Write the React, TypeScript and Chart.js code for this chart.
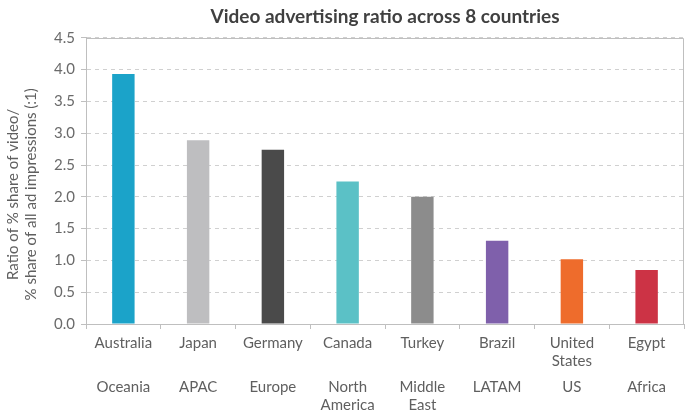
import React, { useEffect, useRef } from "react";
import { Chart, registerables } from "chart.js";

Chart.register(...registerables);

const chartTitle = "Video advertising ratio across 8 countries";
const yAxisTitle = ["Ratio of % share of video/       ", "% share of all ad impressions (:1)       "];
const countries: (string | string[])[] = ["Australia", "Japan", "Germany", "Canada", "Turkey", "Brazil", ["United", "States"], "Egypt"];
const regions: (string | string[])[] = ["Oceania", "APAC", "Europe", ["North", "America"], ["Middle", "East"], "LATAM", "US", "Africa"];
const ratios = [3.93, 2.89, 2.74, 2.24, 2.0, 1.31, 1.02, 0.85];
const barColors = ["#1ba3c9", "#bebec0", "#4a4a4a", "#5bc1c6", "#8c8c8c", "#7f60ab", "#ee6c2c", "#cc3345"];
const yMin = 0;
const yMax = 4.5;
const yStep = 0.5;

const axisGray = "#bfbfbf";
const textGray = "#5f5f5f";

const plotBox = {
  id: "plotBox",
  afterDraw(chart: any) {
    const { ctx, chartArea } = chart;
    const { left, top, right, bottom } = chartArea;
    ctx.save();
    ctx.strokeStyle = axisGray;
    ctx.lineWidth = 1;
    ctx.beginPath();
    ctx.moveTo(left, Math.round(top) + 0.5);
    ctx.lineTo(Math.round(right) - 0.5, Math.round(top) + 0.5);
    ctx.lineTo(Math.round(right) - 0.5, bottom);
    ctx.stroke();
    ctx.restore();
  },
};

export default function App() {
  const ref = useRef<HTMLCanvasElement>(null);
  useEffect(() => {
    Chart.defaults.font.family = "Lato";
    const chart = new Chart(ref.current as HTMLCanvasElement, {
      type: "bar",
      data: {
        labels: countries,
        datasets: [
          {
            data: ratios,
            backgroundColor: barColors,
            barPercentage: 0.3,
            categoryPercentage: 1,
          },
        ],
      },
      plugins: [plotBox],
      options: {
        animation: false,
        responsive: true,
        maintainAspectRatio: false,
        layout: { padding: { left: 0, right: 16, top: 0, bottom: 0 } },
        plugins: {
          legend: { display: false },
          tooltip: { enabled: false },
          title: {
            display: true,
            text: chartTitle,
            fullSize: false,
            color: "#404040",
            font: { size: 19, weight: "bold", family: "Lato" },
            padding: { top: 5, bottom: 10 },
          },
        },
        scales: {
          x: {
            position: "bottom",
            weight: 0,
            offset: true,
            grid: { display: true, drawOnChartArea: false, drawTicks: true, tickLength: 5, color: axisGray, offset: true },
            border: { display: true, color: axisGray },
            ticks: { color: textGray, font: { size: 15, family: "Lato" }, padding: 5, autoSkip: false, maxRotation: 0 },
            afterFit: (s: any) => { s.height = 46; },
          },
          x2: {
            type: "category",
            labels: regions as any,
            position: "bottom",
            weight: 1,
            offset: true,
            grid: { display: false, drawTicks: false },
            border: { display: false },
            ticks: { color: textGray, font: { size: 15, family: "Lato" }, padding: 8, autoSkip: false, maxRotation: 0 },
            afterFit: (s: any) => { s.height = 49; },
          },
          y: {
            min: yMin,
            max: yMax,
            grid: { color: "#d0d0d0", tickColor: axisGray, tickLength: 5, tickBorderDash: [] },
            border: { display: true, color: axisGray, dash: [4, 4] },
            ticks: {
              stepSize: yStep,
              color: "#6a6a6a",
              font: { size: 15, family: "Lato" },
              padding: 6,
              callback: (v: any) => Number(v).toFixed(1),
            },
            title: {
              display: true,
              text: yAxisTitle,
              color: textGray,
              font: { size: 15, family: "Lato" },
              padding: { top: 4, bottom: 0 },
            },
            afterFit: (s: any) => { s.width = 86; },
          },
        },
      } as any,
    });
    return () => chart.destroy();
  }, []);
  return (
    <div style={{ position: "fixed", left: 0, top: 0, width: 700, height: 419 }}>
      <canvas ref={ref} />
    </div>
  );
}
